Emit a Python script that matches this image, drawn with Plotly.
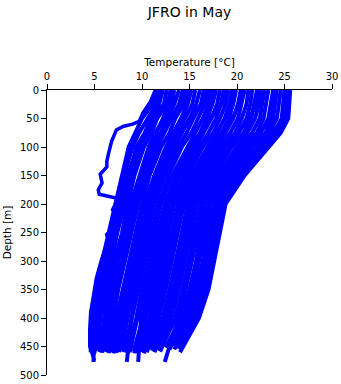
import plotly.graph_objects as go

title_text = "JFRO in May"
x_title = "Temperature [°C]"
y_title = "Depth [m]"
x_ticks = [0, 5, 10, 15, 20, 25, 30]
y_ticks = [0, 50, 100, 150, 200, 250, 300, 350, 400, 450, 500]

# standard depth levels (m); the last value of each profile is at its own end depth
depth_levels = [0, 25, 50, 75, 100, 150, 200, 250, 300, 350, 400]

profile_temps = [
    [11.5, 11.1, 10.0, 9.3, 8.6, 7.9, 7.2, 6.6, 5.9, 5.1, 4.7, 4.6],
    [11.8, 11.5, 10.6, 9.7, 9.0, 8.1, 7.5, 6.9, 6.1, 5.4, 4.9, 4.9],
    [12.2, 11.8, 10.9, 10.3, 9.4, 8.6, 7.9, 7.2, 6.4, 5.7, 5.3, 5.0],
    [12.6, 12.3, 11.2, 10.5, 9.8, 9.0, 8.2, 7.4, 6.8, 6.1, 5.6, 5.3],
    [13.1, 12.6, 11.6, 11.0, 10.2, 9.2, 8.5, 7.9, 7.1, 6.4, 6.0, 5.6],
    [13.4, 13.1, 12.3, 11.4, 10.7, 9.7, 8.8, 8.2, 7.5, 6.8, 6.3, 5.8],
    [13.9, 13.4, 12.6, 12.0, 11.0, 10.0, 9.3, 8.5, 7.9, 7.1, 6.6, 6.1],
    [14.3, 13.9, 13.1, 12.3, 11.6, 10.5, 9.6, 8.9, 8.2, 7.5, 7.0, 6.5],
    [14.8, 14.4, 13.5, 12.9, 12.0, 10.8, 10.0, 9.3, 8.6, 7.9, 7.3, 6.8],
    [15.2, 14.8, 14.1, 13.3, 12.5, 11.3, 10.3, 9.6, 8.9, 8.2, 7.7, 7.0],
    [15.6, 15.3, 14.5, 13.8, 12.9, 11.7, 10.7, 10.0, 9.3, 8.6, 8.0, 7.3],
    [16.1, 15.7, 15.0, 14.2, 13.4, 12.1, 11.0, 10.3, 9.6, 8.9, 8.3, 7.6],
    [16.5, 16.2, 15.4, 14.7, 13.8, 12.4, 11.3, 10.7, 10.0, 9.3, 8.9, 8.4],
    [17.0, 16.6, 15.9, 15.2, 14.2, 12.8, 11.7, 11.0, 10.3, 9.6, 9.0, 8.1],
    [17.3, 17.0, 16.4, 15.6, 14.7, 13.2, 12.0, 11.4, 10.7, 10.0, 9.4, 8.5],
    [17.8, 17.4, 16.8, 16.1, 15.1, 13.6, 12.4, 11.7, 11.1, 10.4, 9.9, 9.6],
    [18.2, 17.9, 17.3, 16.5, 15.6, 14.0, 12.7, 12.1, 11.4, 10.7, 10.1, 9.1],
    [18.6, 18.3, 17.8, 17.0, 16.0, 14.4, 13.1, 12.4, 11.8, 11.1, 10.4, 9.3],
    [19.1, 18.8, 18.2, 17.5, 16.4, 14.8, 13.4, 12.8, 12.1, 11.4, 10.8, 9.6],
    [19.5, 19.2, 18.7, 17.9, 16.9, 15.2, 13.8, 13.1, 12.5, 11.8, 11.1, 9.9],
    [19.9, 19.6, 19.1, 18.4, 17.3, 15.5, 14.1, 13.5, 12.8, 12.1, 11.4, 10.2],
    [20.4, 20.1, 19.6, 18.8, 17.8, 15.9, 14.4, 13.8, 13.2, 12.5, 11.8, 10.5],
    [20.8, 20.5, 20.1, 19.3, 18.2, 16.3, 14.8, 14.2, 13.6, 12.9, 12.2, 10.8],
    [21.2, 21.0, 20.5, 19.8, 18.6, 16.7, 15.1, 14.5, 13.9, 13.2, 12.5, 11.1],
    [21.6, 21.4, 21.0, 20.2, 19.1, 17.1, 15.5, 14.9, 14.3, 13.6, 12.8, 11.3],
    [22.1, 21.8, 21.5, 20.7, 19.5, 17.5, 15.8, 15.2, 14.6, 13.9, 13.1, 11.6],
    [22.5, 22.3, 21.9, 21.1, 20.0, 17.9, 16.2, 15.6, 15.0, 14.3, 13.5, 11.9],
    [22.9, 22.7, 22.4, 21.6, 20.4, 18.2, 16.5, 15.9, 15.3, 14.6, 13.8, 12.4],
    [23.3, 23.1, 22.8, 22.1, 20.8, 18.6, 16.9, 16.2, 15.7, 15.0, 14.1, 12.5],
    [23.8, 23.6, 23.3, 22.5, 21.3, 19.0, 17.2, 16.6, 16.0, 15.4, 14.5, 12.9],
    [24.2, 24.0, 23.8, 23.0, 21.7, 19.4, 17.6, 16.9, 16.4, 15.7, 14.8, 13.2],
    [24.6, 24.4, 24.2, 23.4, 22.2, 19.8, 17.9, 17.3, 16.7, 16.0, 15.1, 13.4],
    [25.0, 24.9, 24.7, 23.9, 22.6, 20.2, 18.3, 17.6, 17.1, 16.4, 15.5, 13.7],
    [25.3, 25.2, 25.1, 24.3, 23.0, 20.5, 18.6, 17.9, 17.4, 16.7, 15.8, 13.9],
    [25.6, 25.5, 25.4, 24.6, 23.3, 20.8, 18.8, 18.2, 17.7, 17.0, 16.0, 14.0],
    [12.0, 11.7, 11.3, 10.6, 9.6, 8.4, 7.6, 6.9, 6.3, 5.7, 5.2, 4.9],
    [14.6, 14.0, 12.9, 12.0, 11.2, 10.2, 9.2, 8.6, 8.0, 7.3, 6.8, 6.3],
    [16.8, 16.3, 15.0, 14.1, 13.2, 12.0, 11.1, 10.5, 9.8, 9.0, 8.5, 7.8],
    [18.9, 18.4, 17.2, 16.2, 15.2, 13.9, 12.8, 12.2, 11.5, 10.8, 10.1, 9.2],
    [20.6, 20.3, 19.5, 18.4, 17.2, 15.4, 14.0, 13.3, 12.7, 12.0, 11.3, 10.0],
    [22.3, 22.0, 21.3, 20.1, 18.8, 16.8, 15.2, 14.6, 14.0, 13.3, 12.6, 11.2],
    [24.0, 23.9, 23.6, 22.4, 21.0, 18.8, 17.0, 16.4, 15.8, 15.1, 14.2, 12.7],
    [25.4, 25.3, 25.0, 23.7, 22.3, 19.9, 18.1, 17.5, 17.0, 16.2, 15.3, 13.6],
    [13.0, 12.8, 12.2, 11.6, 10.9, 9.9, 9.0, 8.2, 7.4, 6.6, 6.1, 5.6],
    [15.0, 14.7, 14.2, 13.6, 12.8, 11.5, 10.5, 9.7, 9.0, 8.3, 7.6, 7.0],
    [17.5, 17.3, 16.9, 16.3, 15.4, 13.8, 12.5, 11.8, 11.0, 10.2, 9.5, 8.7],
    [19.7, 19.5, 19.2, 18.6, 17.6, 15.8, 14.4, 13.7, 13.0, 12.3, 11.6, 10.4],
]

end_depths = [460, 477, 462, 458, 460, 461, 459, 462, 460, 458, 461, 460,
              477, 460, 462, 477, 459, 461, 460, 457, 462, 460, 455, 458,
              460, 456, 459, 477, 452, 455, 448, 455, 445, 455, 460,
              465, 460, 458, 462, 460, 457, 450, 452, 460, 462, 460, 458]

# the one cold, irregular profile on the left
outlier_depths = [0, 20, 40, 55, 60, 64, 70, 80, 90, 110, 125, 135, 148, 163, 175,
                  183, 187, 190, 200, 210, 220, 230, 245, 255, 258, 270, 300, 330,
                  360, 390, 420, 450, 475]
outlier_temps = [11.4, 10.9, 10.1, 9.7, 9.0, 8.0, 7.3, 7.0, 6.8, 6.5, 6.3, 6.3, 5.6,
                 5.8, 5.4, 5.5, 6.5, 7.4, 7.2, 6.9, 7.3, 6.8, 6.8, 6.2, 7.0, 6.3,
                 5.7, 5.2, 4.9, 4.6, 4.5, 4.5, 5.0]

line_color = "#0000FF"

fig = go.Figure()
for temps, dmax in zip(profile_temps, end_depths):
    fig.add_trace(go.Scatter(x=temps, y=depth_levels + [dmax], mode="lines",
                             line=dict(color=line_color, width=4),
                             showlegend=False, hoverinfo="skip"))
fig.add_trace(go.Scatter(x=outlier_temps, y=outlier_depths, mode="lines",
                         line=dict(color=line_color, width=3.5),
                         showlegend=False, hoverinfo="skip"))

font_family = "DejaVu Sans, Liberation Sans, sans-serif"
fig.update_layout(
    width=341, height=384,
    margin=dict(l=47, r=9, t=90, b=9),
    paper_bgcolor="white", plot_bgcolor="white",
    font=dict(family=font_family, color="black", size=10),
    title=dict(text=title_text, x=0.5, xref="paper", xanchor="center",
               y=1 - 12 / 384, yref="container", yanchor="middle",
               automargin=False,
               font=dict(size=14, family=font_family, color="black")),
    xaxis=dict(side="top", range=[0, 30], tickvals=x_ticks,
               ticks="outside", ticklen=5, tickcolor="black", tickwidth=1,
               showline=True, linecolor="black", linewidth=1,
               showgrid=False, zeroline=False, automargin=False,
               tickfont=dict(size=10),
               title=dict(text=x_title, font=dict(size=10.5), standoff=2)),
    yaxis=dict(range=[500, 0], tickvals=y_ticks,
               ticks="outside", ticklen=5, tickcolor="black", tickwidth=1,
               showline=True, linecolor="black", linewidth=1,
               showgrid=False, zeroline=False, automargin=False,
               tickfont=dict(size=10),
               title=dict(text=y_title, font=dict(size=10.5), standoff=6)),
)

fig.write_html("out.html",
               config={"displayModeBar": False},
               post_script="document.body.style.margin='0px';")
